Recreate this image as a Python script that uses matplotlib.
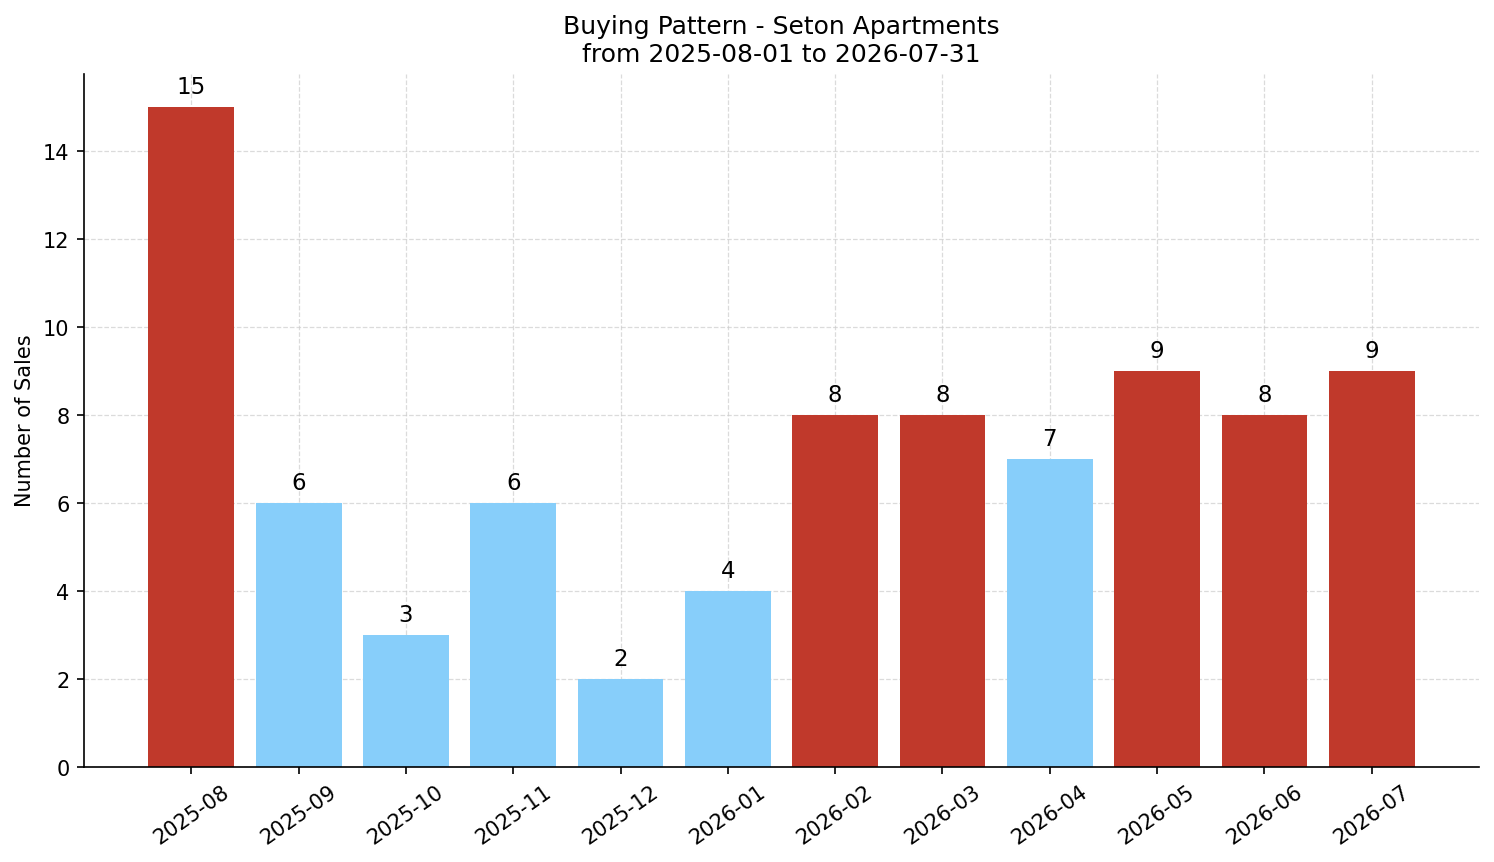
import numpy as np
import matplotlib.pyplot as plt

months = ["2025-08", "2025-09", "2025-10", "2025-11", "2025-12", "2026-01",
          "2026-02", "2026-03", "2026-04", "2026-05", "2026-06", "2026-07"]
sales = [15, 6, 3, 6, 2, 4, 8, 8, 7, 9, 8, 9]

# months above the average get the red colour
avg = np.mean(sales)
colors = ["#C0392B" if s > avg else "#87CEFA" for s in sales]

fig, ax = plt.subplots(figsize=(9.96, 5.753), dpi=150)
x = np.arange(len(months))
bars = ax.bar(x, sales, width=0.8, color=colors, zorder=2)

for b, s in zip(bars, sales):
    ax.text(b.get_x() + b.get_width() / 2, s + 0.2, str(s),
            ha="center", va="bottom", fontsize=11)

ax.set_xticks(x)
ax.set_xticklabels(months, rotation=35)
ax.set_xlim(-1, 12)
ax.set_ylim(0, 15.75)
ax.set_ylabel("Number of Sales", fontsize=10)
ax.set_title("Buying Pattern - Seton Apartments\nfrom 2025-08-01 to 2026-07-31", fontsize=12)
ax.grid(True, linestyle="--", color="#cccccc", alpha=0.7, linewidth=0.6, zorder=3)
ax.spines["top"].set_visible(False)
ax.spines["right"].set_visible(False)

fig.subplots_adjust(left=0.0562, right=0.99, top=0.9135, bottom=0.1105)
fig.savefig("out.png")
